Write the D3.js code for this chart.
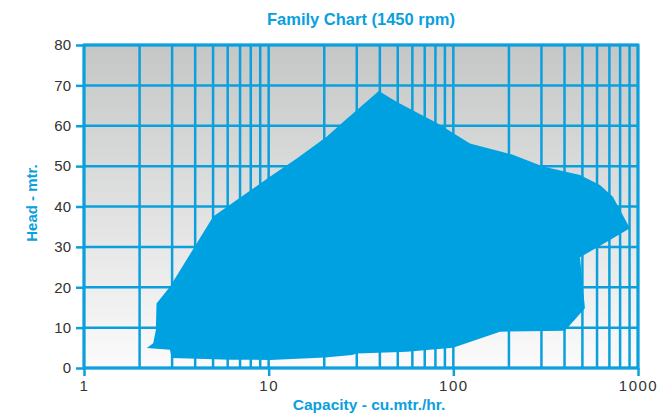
<!DOCTYPE html>
<html>
<head>
  <title>Family Chart</title>
  <script src="https://cdn.jsdelivr.net/npm/d3@7"></script>
  <style>
    body { margin: 0; background: #fff; font-family: "Liberation Sans", Arial, sans-serif; }
    svg text { font-family: "Liberation Sans", Arial, sans-serif; }
  </style>
</head>
<body>
  <div id="chart"></div>
  <script>
    // envelope of the pump family, traced clockwise from the top
    const capacity = [39.5, 49.5, 81.5, 123, 210, 306, 485, 622, 731, 904, 705, 485, 516, 402, 179, 99.5, 56.1, 30.1, 28.3, 20.2, 10.2, 6.2, 2.99, 2.92, 2.19, 2.37, 2.45, 2.47, 2.92, 4.08, 5.01, 6.71, 10.2, 14.2, 20.6, 25.3];
    const head = [68.6, 65.9, 60.7, 55.6, 52.8, 49.9, 47.8, 45.3, 42.4, 34.6, 31.7, 27.4, 14.8, 9.2, 9.0, 5.0, 4.0, 3.6, 3.2, 2.6, 2.0, 2.05, 2.5, 4.5, 4.95, 6.1, 9.4, 16.0, 20.1, 30.9, 37.5, 41.6, 47.4, 51.9, 57.3, 60.9];

    const xTicks = [1, 10, 100, 1000];
    const yTicks = [0, 10, 20, 30, 40, 50, 60, 70, 80];
    const xGrid = d3.range(0, 3).flatMap(e => d3.range(1, 10).map(m => m * Math.pow(10, e))).concat([1000]);

    const blue = "#0aa0dd";
    const fill = "#00a1e0";

    const W = 667, H = 413;
    const x = d3.scaleLog().domain([1, 1000]).range([84, 638]);
    const y = d3.scaleLinear().domain([0, 80]).range([368, 45]);

    const svg = d3.select("#chart").append("svg")
      .attr("width", W).attr("height", H);

    const grad = svg.append("defs").append("linearGradient")
      .attr("id", "bg").attr("x1", 0).attr("y1", 0).attr("x2", 0).attr("y2", 1);
    grad.append("stop").attr("offset", "0%").attr("stop-color", "#c5c6c6");
    grad.append("stop").attr("offset", "100%").attr("stop-color", "#fbfbfb");

    svg.append("rect")
      .attr("x", x(1)).attr("y", y(80))
      .attr("width", x(1000) - x(1)).attr("height", y(0) - y(80))
      .attr("fill", "url(#bg)");

    // grid
    svg.append("g").selectAll("line")
      .data(xGrid)
      .join("line")
        .attr("x1", d => x(d)).attr("x2", d => x(d))
        .attr("y1", y(80)).attr("y2", y(0))
        .attr("stroke", blue).attr("stroke-width", 2.5);

    svg.append("g").selectAll("line")
      .data(yTicks)
      .join("line")
        .attr("x1", x(1)).attr("x2", x(1000))
        .attr("y1", d => y(d)).attr("y2", d => y(d))
        .attr("stroke", blue).attr("stroke-width", 2.5);

    // envelope
    const pts = capacity.map((c, i) => [x(c), y(head[i])]);
    svg.append("path")
      .attr("d", d3.line()(pts) + "Z")
      .attr("fill", fill);

    // axes
    const yAxis = svg.append("g")
      .attr("transform", `translate(${x(1)},0)`)
      .call(d3.axisLeft(y).tickValues(yTicks).tickSize(8).tickPadding(5));
    const xAxis = svg.append("g")
      .attr("transform", `translate(0,${y(0)})`)
      .call(d3.axisBottom(x).tickValues(xTicks).tickFormat(d3.format("d")).tickSize(8).tickPadding(4));

    [yAxis, xAxis].forEach(g => {
      g.select(".domain").remove();
      g.selectAll(".tick line").attr("stroke", blue).attr("stroke-width", 2.5);
      g.selectAll(".tick text").attr("fill", "#333").style("font-size", "15px");
    });
    xAxis.selectAll(".tick text").style("letter-spacing", "1.5px");

    // outer frame
    svg.append("rect")
      .attr("x", x(1)).attr("y", y(80))
      .attr("width", x(1000) - x(1)).attr("height", y(0) - y(80))
      .attr("fill", "none").attr("stroke", blue).attr("stroke-width", 3);

    // titles
    svg.append("text")
      .attr("x", 361).attr("y", 25)
      .attr("text-anchor", "middle")
      .attr("fill", blue).style("font-size", "16.5px").style("font-weight", "bold")
      .text("Family Chart (1450 rpm)");

    svg.append("text")
      .attr("x", 369).attr("y", 410)
      .attr("text-anchor", "middle")
      .attr("fill", blue).style("font-size", "15.5px").style("font-weight", "bold")
      .text("Capacity - cu.mtr./hr.");

    svg.append("text")
      .attr("transform", "translate(37,203) rotate(-90)")
      .attr("text-anchor", "middle")
      .attr("fill", blue).style("font-size", "15px").style("font-weight", "bold")
      .text("Head - mtr.");
  </script>
</body>
</html>
